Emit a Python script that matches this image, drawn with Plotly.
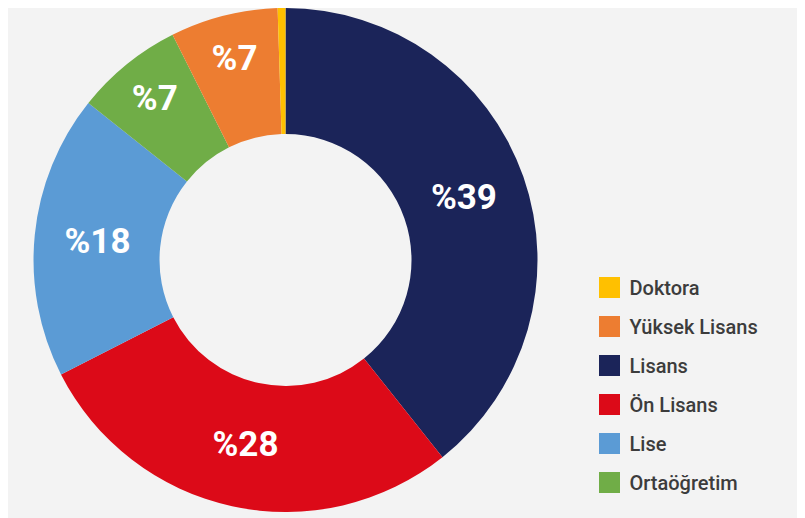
import plotly.graph_objects as go

# eğitim durumu dağılımı (%), saat 12'den saat yönünde
labels = ["Lisans", "Ön Lisans", "Lise", "Ortaöğretim", "Yüksek Lisans", "Doktora"]
values = [39.3, 28.2, 18.2, 6.9, 6.9, 0.5]
text_labels = ["%39", "%28", "%18", "%7", "%7", ""]
colors = ["#1b2459", "#dc0a18", "#5b9bd5", "#70ad47", "#ed7d31", "#ffc000"]

# lejant sırası
legend_order = ["Doktora", "Yüksek Lisans", "Lisans", "Ön Lisans", "Lise", "Ortaöğretim"]

BG = "#f3f3f3"

fig = go.Figure()
fig.add_trace(go.Pie(
    labels=labels, values=values,
    text=text_labels, textinfo="text",
    textposition="inside", insidetextorientation="horizontal",
    textfont=dict(family="Roboto", size=35, color="white", weight="bold"),
    marker=dict(colors=colors, line=dict(width=0)),
    hole=0.5, sort=False, direction="clockwise", rotation=0,
    showlegend=False, hoverinfo="label+percent",
    domain=dict(x=[0.032, 0.6644], y=[0.0118, 1.0]),
))

color_map = dict(zip(labels, colors))
for name in legend_order:
    fig.add_trace(go.Scatter(
        x=[None], y=[None], mode="markers", name=name,
        legendgroup=name,
        marker=dict(symbol="square", size=16, color=color_map[name],
                    line=dict(width=5, color=color_map[name])),
    ))

fig.update_layout(
    width=797, height=510,
    paper_bgcolor=BG, plot_bgcolor=BG,
    margin=dict(l=0, r=0, t=0, b=0),
    xaxis=dict(visible=False), yaxis=dict(visible=False),
    legend=dict(
        x=0.7296, y=0.49, xanchor="left", yanchor="top",
        traceorder="grouped", tracegroupgap=10,
        font=dict(family="Roboto", size=20, color="#3c3c3c", weight=500),
        bgcolor="rgba(0,0,0,0)",
    ),
)

fig.write_html("out.html")
